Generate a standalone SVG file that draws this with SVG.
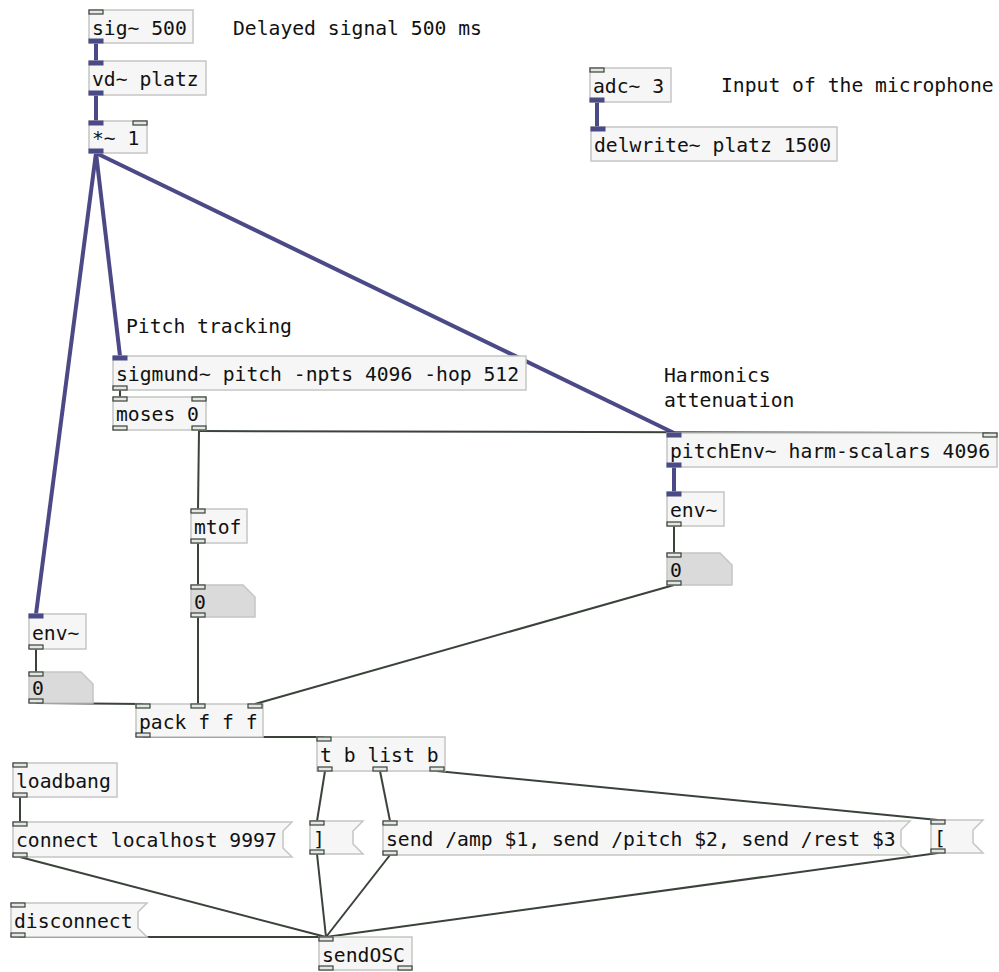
<svg xmlns="http://www.w3.org/2000/svg" width="999" height="972" viewBox="0 0 999 972">
<style>
.bg{fill:#ffffff}
.box{fill:#f5f6f5;stroke:#c4c6c4;stroke-width:1.5}
.num{fill:#dadada;stroke:#c4c6c4;stroke-width:1.5}
.t{font-family:"DejaVu Sans Mono","Liberation Mono",monospace;font-size:19.7px;fill:#111}
.c{fill:none;stroke:#3a423a;stroke-width:2}
.s{fill:none;stroke:#4b4a86;stroke-width:4}
.pc{fill:#e4e6e4;stroke:#3a423a;stroke-width:1.2}
.ps{fill:#4b4a86;stroke:#4b4a86;stroke-width:1}
</style>
<rect class="bg" x="0" y="0" width="999" height="972"/>
<g id="connectors">
<line class="s" x1="96" y1="43" x2="96" y2="61"/>
<line class="s" x1="96" y1="95" x2="96" y2="121"/>
<line class="s" x1="96" y1="153" x2="120" y2="356"/>
<line class="s" x1="96" y1="153" x2="674" y2="433"/>
<line class="s" x1="96" y1="153" x2="36" y2="614"/>
<line class="s" x1="597" y1="102" x2="597" y2="127"/>
<line class="c" x1="120" y1="390" x2="120" y2="397"/>
<line class="c" x1="199" y1="430" x2="198" y2="509"/>
<line class="c" x1="199" y1="431" x2="990" y2="433"/>
<line class="c" x1="198" y1="543" x2="198" y2="585"/>
<line class="c" x1="198" y1="617" x2="198" y2="704"/>
<line class="s" x1="674" y1="467" x2="674" y2="492"/>
<line class="c" x1="674" y1="526" x2="674" y2="553"/>
<line class="c" x1="674" y1="585" x2="255" y2="704"/>
<line class="c" x1="36" y1="649" x2="36" y2="672"/>
<line class="c" x1="36" y1="703" x2="143" y2="704"/>
<line class="c" x1="143" y1="737" x2="324" y2="737"/>
<line class="c" x1="325" y1="771" x2="317" y2="821"/>
<line class="c" x1="380" y1="771" x2="390" y2="821"/>
<line class="c" x1="437" y1="771" x2="938" y2="820"/>
<line class="c" x1="20" y1="797" x2="20" y2="822"/>
<line class="c" x1="20" y1="857" x2="326" y2="937"/>
<line class="c" x1="317" y1="854" x2="326" y2="937"/>
<line class="c" x1="390" y1="855" x2="326" y2="937"/>
<line class="c" x1="938" y1="853" x2="326" y2="937"/>
<line class="c" x1="18" y1="937" x2="326" y2="937"/>
</g>
<g id="sig">
<rect class="box" x="89" y="10" width="104" height="33"/>
<rect class="pc" x="89" y="10" width="14" height="4"/>
<rect class="ps" x="89" y="39" width="14" height="4"/>
<text class="t" x="92" y="35">sig~ 500</text>
</g>
<g id="comment-delayed"><text class="t" x="233" y="35">Delayed signal 500 ms</text></g>
<g id="vd">
<rect class="box" x="89" y="61" width="117" height="34"/>
<rect class="ps" x="89" y="61" width="14" height="4"/>
<rect class="ps" x="89" y="91" width="14" height="4"/>
<text class="t" x="92" y="86">vd~ platz</text>
</g>
<g id="mul">
<rect class="box" x="89" y="121" width="58" height="32"/>
<rect class="ps" x="89" y="121" width="14" height="4"/>
<rect class="pc" x="133" y="121" width="14" height="4"/>
<rect class="ps" x="89" y="149" width="14" height="4"/>
<text class="t" x="92" y="145">*~ 1</text>
</g>
<g id="adc">
<rect class="box" x="590" y="68" width="81" height="34"/>
<rect class="pc" x="590" y="68" width="14" height="4"/>
<rect class="ps" x="590" y="98" width="14" height="4"/>
<text class="t" x="593" y="93">adc~ 3</text>
</g>
<g id="comment-input"><text class="t" x="721" y="92">Input of the microphone</text></g>
<g id="delwrite">
<rect class="box" x="591" y="127" width="246" height="34"/>
<rect class="ps" x="591" y="127" width="14" height="4"/>
<text class="t" x="594" y="152">delwrite~ platz 1500</text>
</g>
<g id="comment-pitch"><text class="t" x="126" y="333">Pitch tracking</text></g>
<g id="sigmund">
<rect class="box" x="113" y="356" width="413" height="34"/>
<rect class="ps" x="113" y="356" width="14" height="4"/>
<rect class="pc" x="113" y="386" width="14" height="4"/>
<text class="t" x="116" y="381">sigmund~ pitch -npts 4096 -hop 512</text>
</g>
<g id="comment-harm"><text class="t" x="664" y="382">Harmonics</text><text class="t" x="664" y="407">attenuation</text></g>
<g id="moses">
<rect class="box" x="113" y="397" width="93" height="33"/>
<rect class="pc" x="113" y="397" width="14" height="4"/>
<rect class="pc" x="192" y="397" width="14" height="4"/>
<rect class="pc" x="113" y="426" width="14" height="4"/>
<rect class="pc" x="192" y="426" width="14" height="4"/>
<text class="t" x="116" y="421">moses 0</text>
</g>
<g id="pitchEnv">
<rect class="box" x="667" y="433" width="330" height="34"/>
<rect class="ps" x="667" y="433" width="14" height="4"/>
<rect class="pc" x="983" y="433" width="14" height="4"/>
<rect class="ps" x="667" y="463" width="14" height="4"/>
<text class="t" x="670" y="458">pitchEnv~ harm-scalars 4096</text>
</g>
<g id="envR">
<rect class="box" x="667" y="492" width="57" height="34"/>
<rect class="ps" x="667" y="492" width="14" height="4"/>
<rect class="pc" x="667" y="522" width="14" height="4"/>
<text class="t" x="670" y="517">env~</text>
</g>
<g id="numR">
<path class="num" d="M667 553 H720 L732 565 V585 H667 Z"/>
<rect class="pc" x="667" y="553" width="14" height="4"/>
<rect class="pc" x="667" y="581" width="14" height="4"/>
<text class="t" x="670" y="577">0</text>
</g>
<g id="mtof">
<rect class="box" x="191" y="509" width="56" height="34"/>
<rect class="pc" x="191" y="509" width="14" height="4"/>
<rect class="pc" x="191" y="539" width="14" height="4"/>
<text class="t" x="194" y="534">mtof</text>
</g>
<g id="numM">
<path class="num" d="M191 585 H243 L255 597 V617 H191 Z"/>
<rect class="pc" x="191" y="585" width="14" height="4"/>
<rect class="pc" x="191" y="613" width="14" height="4"/>
<text class="t" x="194" y="609">0</text>
</g>
<g id="envL">
<rect class="box" x="29" y="614" width="57" height="35"/>
<rect class="ps" x="29" y="614" width="14" height="4"/>
<rect class="pc" x="29" y="645" width="14" height="4"/>
<text class="t" x="32" y="640">env~</text>
</g>
<g id="numL">
<path class="num" d="M29 672 H81 L93 684 V703 H29 Z"/>
<rect class="pc" x="29" y="672" width="14" height="4"/>
<rect class="pc" x="29" y="699" width="14" height="4"/>
<text class="t" x="32" y="695">0</text>
</g>
<g id="pack">
<rect class="box" x="136" y="704" width="127" height="33"/>
<rect class="pc" x="136" y="704" width="14" height="4"/>
<rect class="pc" x="191" y="704" width="14" height="4"/>
<rect class="pc" x="248" y="704" width="14" height="4"/>
<rect class="pc" x="136" y="733" width="14" height="4"/>
<text class="t" x="139" y="729">pack f f f</text>
</g>
<g id="trigger">
<rect class="box" x="317" y="737" width="128" height="34"/>
<rect class="pc" x="317" y="737" width="14" height="4"/>
<rect class="pc" x="318" y="767" width="14" height="4"/>
<rect class="pc" x="373" y="767" width="14" height="4"/>
<rect class="pc" x="430" y="767" width="14" height="4"/>
<text class="t" x="320" y="762">t b list b</text>
</g>
<g id="loadbang">
<rect class="box" x="13" y="763" width="104" height="34"/>
<rect class="pc" x="13" y="763" width="14" height="4"/>
<rect class="pc" x="13" y="793" width="14" height="4"/>
<text class="t" x="16" y="788">loadbang</text>
</g>
<g id="connect">
<path class="box" d="M13 822 H292 L283 831 V848 L292 857 H13 Z"/>
<rect class="pc" x="13" y="822" width="14" height="4"/>
<rect class="pc" x="13" y="853" width="14" height="4"/>
<text class="t" x="16" y="847">connect localhost 9997</text>
</g>
<g id="msgClose">
<path class="box" d="M310 821 H363 L353 831 V844 L363 854 H310 Z"/>
<rect class="pc" x="310" y="821" width="14" height="4"/>
<rect class="pc" x="310" y="850" width="14" height="4"/>
<text class="t" x="313" y="846">]</text>
</g>
<g id="sendMsg">
<path class="box" d="M383 821 H910 L901 830 V846 L910 855 H383 Z"/>
<rect class="pc" x="383" y="821" width="14" height="4"/>
<rect class="pc" x="383" y="851" width="14" height="4"/>
<text class="t" x="386" y="846">send /amp $1, send /pitch $2, send /rest $3</text>
</g>
<g id="msgOpen">
<path class="box" d="M931 820 H983 L973 830 V843 L983 853 H931 Z"/>
<rect class="pc" x="931" y="820" width="14" height="4"/>
<rect class="pc" x="931" y="849" width="14" height="4"/>
<text class="t" x="934" y="845">[</text>
</g>
<g id="disconnect">
<path class="box" d="M11 903 H147 L138 912 V928 L147 937 H11 Z"/>
<rect class="pc" x="11" y="903" width="14" height="4"/>
<rect class="pc" x="11" y="933" width="14" height="4"/>
<text class="t" x="14" y="928">disconnect</text>
</g>
<g id="sendOSC">
<rect class="box" x="319" y="937" width="93" height="33"/>
<rect class="pc" x="319" y="937" width="14" height="4"/>
<rect class="pc" x="319" y="966" width="14" height="4"/>
<rect class="pc" x="398" y="966" width="14" height="4"/>
<text class="t" x="322" y="962">sendOSC</text>
</g>
</svg>
